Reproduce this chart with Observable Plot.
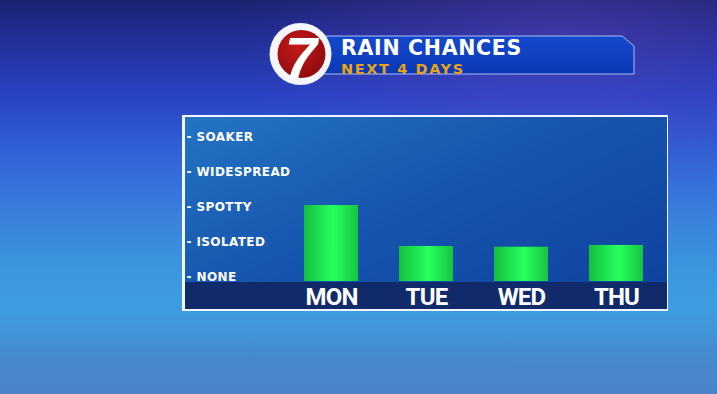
<!DOCTYPE html>
<html>
<head>
<meta charset="utf-8">
<script src="https://cdn.jsdelivr.net/npm/d3@7"></script>
<script src="https://cdn.jsdelivr.net/npm/@observablehq/plot@0.6"></script>
<style>
  html, body { margin: 0; padding: 0; }
  body {
    width: 717px; height: 394px; overflow: hidden; position: relative;
    background:
      radial-gradient(ellipse 320px 160px at 560px 40px, rgba(95,70,190,0.45), rgba(95,70,190,0) 100%),
      linear-gradient(to bottom, #1b2370 0px, #222d95 35px, #2843c4 95px, #3160d6 150px, #3a80dc 215px, #3b98de 275px, #3e9ce0 310px, #4689cc 360px, #4c84c8 394px);
    font-family: "DejaVu Sans", sans-serif;
  }
  #header { position: absolute; left: 0; top: 0; }
  #panel { position: absolute; left: 182px; top: 115px; width: 486px; height: 196px; background: #f2f6ff; }
  #panel svg { position: absolute; left: 3px; top: 2px; }
</style>
</head>
<body>
<svg id="header" width="717" height="110">
  <defs>
    <linearGradient id="banG" x1="0" y1="0" x2="0" y2="1">
      <stop offset="0" stop-color="#1449cc"/>
      <stop offset="1" stop-color="#0b38b6"/>
    </linearGradient>
    <radialGradient id="redG" cx="0.4" cy="0.35" r="0.7">
      <stop offset="0" stop-color="#c41a1a"/>
      <stop offset="1" stop-color="#900a0e"/>
    </radialGradient>
  </defs>
  <path d="M318,36 L622,36 L634,46 L634,74 L318,74 Z" fill="url(#banG)" stroke="#a9bcf5" stroke-width="1"/>
  <circle cx="300.5" cy="54" r="31" fill="#f4f6fb"/>
  <circle cx="301.5" cy="54" r="24" fill="url(#redG)"/>
  <text x="301" y="78" text-anchor="middle" font-family="Liberation Sans, Arial, sans-serif" font-weight="bold" font-style="italic" font-size="58" fill="#ffffff">7</text>
  <text x="341" y="55" font-family="DejaVu Sans" font-weight="bold" font-size="20.5" letter-spacing="0.7" fill="#ffffff">RAIN CHANCES</text>
  <text x="341" y="73.5" font-family="DejaVu Sans" font-weight="bold" font-size="14.5" letter-spacing="1.6" fill="#e9a316">NEXT 4 DAYS</text>
</svg>
<div id="panel"></div>
<script>
const days = ["MON", "TUE", "WED", "THU"];
const values = [2.17, 1.0, 0.98, 1.03];
const levels = ["NONE", "ISOLATED", "SPOTTY", "WIDESPREAD", "SOAKER"];
const levelTicks = [0, 1, 2, 3, 4];

const data = days.map((d, i) => ({day: d, value: values[i]}));

const plot = Plot.plot({
  width: 482,
  height: 192,
  marginTop: 0,
  marginBottom: 28,
  marginLeft: 99,
  marginRight: 4,
  style: {
    background: "linear-gradient(to bottom, rgba(0,0,0,0) 0px, rgba(0,0,0,0) 165px, #102a6a 165px), linear-gradient(155deg, #2474c4 0%, #1656ae 45%, #0e409e 100%)",
    color: "#ffffff",
    overflow: "visible"
  },
  x: {domain: days, paddingInner: 0.435, paddingOuter: 0.2},
  y: {domain: [0, 164 / 35]},
  marks: [
    Plot.barY(data, {x: "day", y: "value", fill: "url(#barGrad)"}),
    Plot.axisY({
      ticks: levelTicks,
      tickFormat: i => "- " + levels[i],
      tickSize: 0,
      textAnchor: "start",
      dx: -89,
      dy: -4,
      fontSize: 12,
      fontWeight: "bold",
      fontFamily: "DejaVu Sans",
      fill: "#ffffff",
      label: null
    }),
    Plot.axisX({
      tickSize: 0,
      dy: -3,
      fontSize: 24,
      fontWeight: "bold",
      fontFamily: "Roboto, sans-serif",
      fill: "#ffffff",
      label: null
    })
  ]
});

plot.insertAdjacentHTML("afterbegin",
  `<defs><linearGradient id="barGrad" x1="0" y1="0" x2="1" y2="0">
     <stop offset="0" stop-color="#13bf3e"/>
     <stop offset="0.55" stop-color="#26ff5e"/>
     <stop offset="1" stop-color="#15c43f"/>
   </linearGradient></defs>`);
plot.querySelectorAll('g[aria-label="y-axis tick label"] text').forEach(t => t.style.letterSpacing = "0.4px");
plot.querySelectorAll('g[aria-label="x-axis tick label"] text').forEach(t => t.style.letterSpacing = "-0.8px");
document.getElementById("panel").appendChild(plot);
</script>
</body>
</html>
